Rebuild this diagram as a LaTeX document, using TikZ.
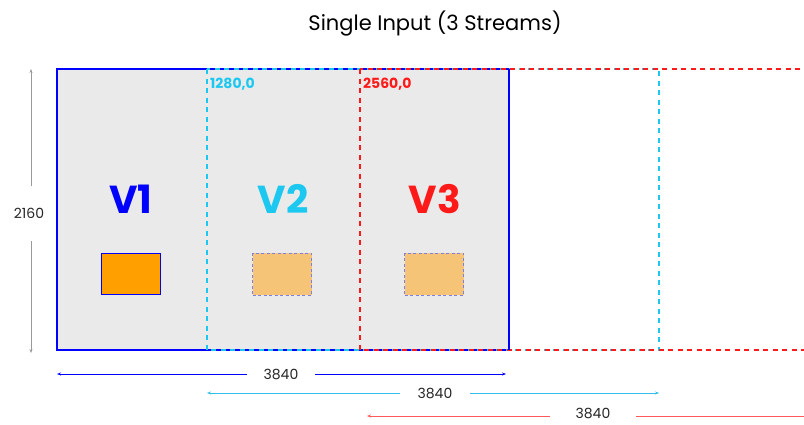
\documentclass[tikz,border=0pt]{standalone}
\usepackage{fontspec}
\setmainfont{Poppins}
\usetikzlibrary{arrows.meta}
\definecolor{vblue}{HTML}{0000FF}
\definecolor{vcyan}{HTML}{1CC8F0}
\definecolor{vred}{HTML}{FF1A1A}
\definecolor{lred}{HTML}{FF5A5A}
\definecolor{lcyan}{HTML}{33BDEB}
\definecolor{bggray}{HTML}{EAEAEA}
\definecolor{boxorange}{HTML}{FF9F00}
\definecolor{boxlight}{HTML}{F5C477}
\definecolor{boxdash}{HTML}{7F7FE0}
\definecolor{dimgray}{HTML}{999999}
\tikzset{
  x=1pt, y=-1pt,
  frame/.style={line width=1.6pt},
  dashframe/.style={line width=1.5pt, dash pattern=on 5pt off 4.5pt},
  dimarrow/.style={line width=0.9pt, {Stealth[length=4pt,width=3pt]}-{Stealth[length=4pt,width=3pt]}},
  dimlabel/.style={font=\fontsize{14}{16}\selectfont, text=black!85, fill=white, inner sep=6pt},
  vlabel/.style={font=\fontsize{39}{44}\selectfont\bfseries},
  poslabel/.style={font=\fontsize{14}{16}\selectfont\bfseries, anchor=west, inner sep=1pt},
}
\begin{document}
\begin{tikzpicture}
\useasboundingbox (0,0) rectangle (804,424);
% coordinates
\coordinate (b1) at (57,69);   \coordinate (b2) at (509,350);
\coordinate (c1) at (207,69);  \coordinate (c2) at (659,350);
\coordinate (r1) at (360,69);  \coordinate (r2) at (812,350);
% main frame
\fill[bggray] (b1) rectangle (b2);
\draw[frame, vblue] (b1) rectangle (b2);
\draw[dashframe, vcyan] (c1) rectangle (c2);
\draw[dashframe, vred] (r1) rectangle (r2);
\draw[line width=1.6pt, vblue] (509,69) -- (509,350);
% title
\node[font=\fontsize{21}{25}\selectfont, text=black] (title) at (435,24) {Single Input (3 Streams)};
% position labels
\node[poslabel, text=vcyan] (p1) at (209,84) {1280,0};
\node[poslabel, text=vred] (p2) at (362,84) {2560,0};
% V labels
\node[vlabel, text=vblue] (v1) at (131,199) {V1};
\node[vlabel, text=vcyan] (v2) at (283,199) {V2};
\node[vlabel, text=vred] (v3) at (435,199) {V3};
% boxes
\node[draw=vblue, fill=boxorange, line width=1.2pt, minimum width=59pt, minimum height=41pt, inner sep=0pt] (o1) at (131,274) {};
\node[draw=boxdash, fill=boxlight, line width=1pt, dash pattern=on 3pt off 2.5pt, minimum width=59pt, minimum height=42pt, inner sep=0pt] (o2) at (282,274) {};
\node[draw=boxdash, fill=boxlight, line width=1pt, dash pattern=on 3pt off 2.5pt, minimum width=59pt, minimum height=42pt, inner sep=0pt] (o3) at (434,274) {};
% height dimension
\coordinate (h1) at (31,69); \coordinate (h2) at (31,353);
\draw[dimarrow, dimgray, line width=0.8pt] (h1) -- (h2);
\node[dimlabel, inner sep=0pt, minimum height=55pt] (hl) at (29,213) {2160};
% width dimensions
\coordinate (w1a) at (57,374); \coordinate (w1b) at (506,374);
\draw[dimarrow, vblue] (w1a) -- (w1b);
\node[dimlabel, inner sep=0pt, minimum width=68pt, minimum height=14pt] (wl1) at (281,374) {3840};
\coordinate (w2a) at (207,393); \coordinate (w2b) at (659,393);
\draw[dimarrow, lcyan, line width=0.7pt] (w2a) -- (w2b);
\node[dimlabel, inner sep=0pt, minimum width=70pt, minimum height=14pt] (wl2) at (435,393) {3840};
\coordinate (w3a) at (367,416); \coordinate (w3b) at (812,416);
\draw[dimarrow, lred] (w3a) -- (w3b);
\node[dimlabel, inner sep=0pt, minimum width=86pt, minimum height=12pt] (wl3) at (593,413) {3840};
\end{tikzpicture}
\end{document}
